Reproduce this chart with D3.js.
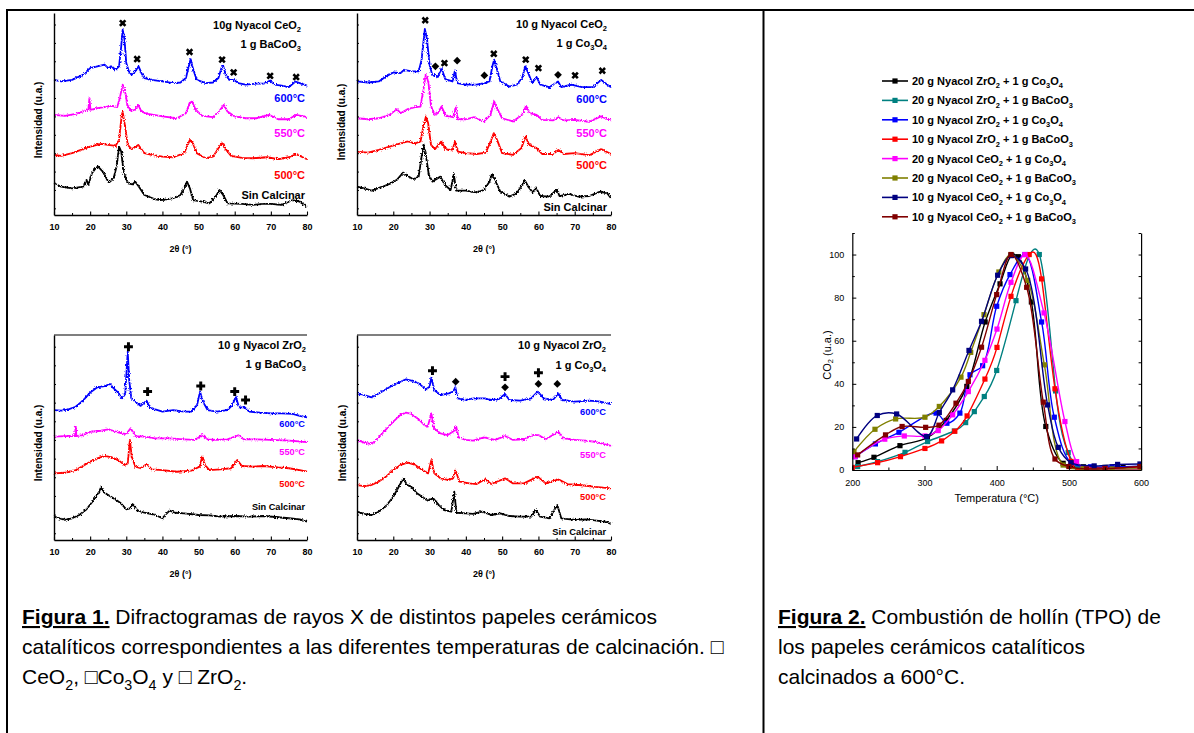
<!DOCTYPE html>
<html><head><meta charset="utf-8">
<script src="https://cdn.jsdelivr.net/npm/d3@7"></script>
<style>
body{margin:0;background:#fff}
svg{display:block}
text{font-family:"Liberation Sans",Arial,Helvetica,sans-serif}
</style>
</head><body>
<svg id="c" width="1194" height="733"></svg>
<script>
// ---------------- DATA ----------------
// XRD patterns: [2theta, intensity (arbitrary, stacked)]
const ceBa600 = [[10,66.9],[12,66.1],[15,66.9],[18,69.4],[20,72.7],[22,73.6],[24,74.4],[25,72.7],[26,73.6],[27,71.9],[28,73.6],[28.6,83.5],[29,91.7],[29.5,86.8],[30,75.2],[30.7,71.1],[31.5,69.4],[32.5,71.1],[33.4,73.6],[34.2,70.2],[35,67.8],[37,66.9],[40,66.1],[43,65.3],[45,65.6],[46.5,67.8],[47.3,73.6],[47.8,77.2],[48.4,72.7],[49.5,66.9],[52,65.3],[54,65.6],[55.5,67.8],[56.3,72.7],[56.8,73.9],[57.5,69.4],[58.5,66.9],[59.7,66.9],[61,65.3],[63,64.5],[66,65],[68,65],[69.8,66.6],[71,64.5],[73,64],[75,63.3],[76.8,66.1],[78,65.3],[80,64]];
const ceBa550 = [[10,49.6],[13,49.1],[16,50.1],[19.5,52.1],[19.8,57.9],[20.1,52.1],[22,52.9],[24,53.4],[26,54],[27.5,53.4],[28.3,58.7],[29,64.5],[29.6,62],[30.3,54.5],[31.2,51.7],[32.5,52.1],[33.3,54.5],[34.2,51.2],[36,50.1],[40,48.8],[44,47.9],[46.5,50.4],[47.5,55.4],[48.2,56.2],[49.2,52.1],[51,49.1],[54,48.4],[56,52.1],[57,54.5],[58,51.2],[60,48.8],[63,47.9],[66,47.9],[69.5,49.6],[72,47.4],[75,47.4],[77,49.6],[80,48.4]];
const ceBa500 = [[10,29.8],[12,29.3],[15,30.6],[18,32.6],[20,33.9],[23,35.2],[25,34.7],[27,34.2],[28,37.2],[28.7,48.8],[29,51.2],[29.6,44.6],[30.4,34.7],[31.5,32.6],[33.3,34.7],[35,30.6],[37,29.8],[40,28.9],[43,28.6],[46,30.6],[47.6,37.2],[48.5,35.2],[49.5,30.6],[52,28.1],[54,28.9],[55.8,33.9],[56.5,35.5],[57.5,32.6],[59,29.3],[62,28.3],[65,28.1],[69,28.6],[72,27.6],[75,28.6],[77,30.1],[80,27.6]];
const ceBaSC = [[10,15.7],[12,14],[15,13.2],[18,14],[19,17.4],[19.5,14.9],[20.5,20.7],[21.5,23.1],[22.2,24],[23.5,21.5],[24.5,18.2],[25.2,16],[26.5,18.2],[27.3,24],[28,33.9],[28.6,31.4],[29.3,20.7],[30.5,15.7],[31.7,15.2],[32.5,16.5],[33.5,14],[35,9.9],[38,7.8],[40,7.4],[43,8.3],[45,9.9],[46.2,14],[46.8,16.5],[47.6,13.2],[48.5,7.4],[51,6.6],[53,5.8],[55,9.9],[55.8,12.4],[56.8,9.9],[58,5.8],[62,5.5],[65,5],[68,5.5],[70,5.5],[73,5],[76,7.4],[78,6.6],[80,4.1]];

const ceCo600 = [[10,66.1],[13,65.6],[16,66.1],[18,68.6],[20,70.6],[22,70.2],[23,71.9],[25,71.1],[27,71.1],[27.8,76.9],[28.7,92.1],[29.3,86.8],[30,74.4],[30.8,68.9],[31.5,69.4],[32.3,68.3],[33.3,72.7],[34.3,67.3],[36.3,66.1],[37,71.6],[37.6,65.3],[40,64.5],[43,64.5],[45,65.3],[46.5,66.1],[47.3,73.6],[47.8,76.9],[48.6,71.9],[49.5,66.1],[52,63.6],[54,64.5],[55.5,67.8],[56.4,73.6],[57.2,70.2],[58.3,65.3],[59.5,68.3],[60.5,64.5],[63,63.3],[65.4,66.1],[66.3,63.3],[69,64.5],[72,63.3],[75,63.3],[77.3,66.9],[79,64.5],[80,63.3]];
const ceCo550 = [[10,47.9],[13,47.4],[16,47.9],[19,49.6],[21,52.4],[22,50.4],[24,52.4],[26,53.4],[27.5,53.7],[28.3,62],[29,69.9],[29.7,65.3],[30.4,54],[31.3,49.6],[32.3,50.4],[33.3,53.7],[34.5,49.1],[36.5,48.4],[37.2,53.4],[37.8,47.4],[40,47.4],[42.3,48.4],[45,46.3],[46.8,49.6],[47.8,56.2],[48.8,52.1],[50,47.9],[53,46.3],[55.5,49.6],[56.6,54],[57.6,50.4],[59.5,49.6],[61,47.1],[64,46.8],[65.5,48.4],[67,46.8],[70,47.1],[74,46.1],[77.2,48.8],[80,46.8]];
const ceCo500 = [[10,31.4],[13,30.9],[16,32.2],[19,33.9],[22,35.5],[24,36.4],[26,35.5],[27.5,36.4],[28.3,43.8],[29,48.8],[29.6,45.5],[30.4,34.7],[31.5,32.6],[33.2,36.4],[34.5,32.6],[36.3,31.9],[37,36.4],[37.8,31.4],[40,30.6],[43,30.2],[45.5,30.9],[47,37.2],[47.7,40.5],[48.6,37.2],[50,30.6],[53,29.8],[55.3,33.1],[56.4,38.8],[57.5,34.7],[59.5,33.1],[61,30.2],[64,30.2],[65.5,32.2],[67,30.2],[70,30.6],[74,29.6],[77.3,32.6],[80,30.2]];
const ceCoSC = [[10,14],[12,13.2],[14,12.1],[17,14],[19,15.4],[21,17.4],[22.7,21],[24,19.3],[25.5,17.7],[27,19],[27.8,28.9],[28.3,34.7],[28.9,30.6],[29.8,19.8],[30.8,16.5],[31.5,17.4],[33,19],[34.2,14.9],[35.8,12.4],[36.7,20.3],[37.3,12.1],[40,12.1],[43,11.1],[45,12.4],[46.5,16.5],[47.2,20.3],[48,17.4],[49.5,11.6],[52,9.1],[54,10.7],[55.5,14.9],[56.2,17.4],[57.2,14],[58.5,11.1],[59.3,13.7],[60.5,9.4],[63,9.1],[65.1,12.7],[65.8,9.4],[68.5,10.4],[71,9.1],[74,9.4],[77,11.6],[79,10.7],[80,8.3]];

const zrBa600 = [[10,63.4],[12,63.1],[14,63.7],[16,65],[18,68],[20,71.9],[22,74.5],[24,75.1],[25.5,76.1],[26.5,74],[27.5,72.4],[28.8,69.1],[29.7,71.2],[30.1,82.9],[30.4,91.9],[30.8,78],[31.4,69.1],[32.5,67.5],[34,65.4],[35.6,68],[36.5,64.7],[38,63.7],[40,62.6],[43,63.4],[46,62.6],[48,62.6],[49.6,65.9],[50.4,72.4],[51.2,67.5],[52.5,63.4],[55,62.6],[58,63.4],[59.4,65.9],[60.3,69.9],[61.2,64.7],[62.8,64.7],[64,62.6],[67,62.1],[70,61.8],[73,61.8],[76,61.5],[78,60.5],[80,59.8]];
const zrBa550 = [[10,50.4],[13,50.7],[15.8,50.7],[16,55.6],[16.2,50.7],[18,51.2],[20,52.8],[23,53.3],[25,54],[28,52.4],[30,51.7],[31.2,54.5],[32.5,50.7],[35,50.4],[38,49.6],[42,49.6],[46,49.1],[49,48.8],[51,51.2],[52.5,49.1],[55,48.8],[58,49.1],[61,51.1],[62.5,49.1],[66,49.1],[70,48.8],[75,48.5],[80,47.8]];
const zrBa500 = [[10,32.5],[13,32.8],[16,34.1],[18,36.1],[20,38.2],[22,39.8],[24,41],[26,40.3],[28,38.7],[29.5,36.6],[30.4,37.4],[31,48.8],[31.5,40.7],[32.5,35.8],[34,35],[35.7,37.1],[37,34.5],[40,34.1],[44,33.3],[48,33.8],[50.3,35.8],[51,40.7],[51.8,36.6],[53,34.1],[56,34.5],[59,35],[60.7,39],[62,36.1],[65,35.8],[68,36.1],[72,35.4],[75,35],[78,34.1],[80,33.3]];
const zrBaSC = [[10,11.4],[13,9.8],[15,10.6],[17,12.2],[19,15],[21,19.5],[22.5,23.6],[23,25.7],[24,23.1],[25,22],[27,19.8],[28.5,17.9],[30,15],[31,15.4],[31.8,17.6],[33,14.6],[35,13.3],[38,12.2],[40,10.6],[41,12.7],[42,14.3],[43.5,13.3],[46,13],[50,12.2],[53,12],[56,11.4],[60,11.7],[64,11.4],[68,11.7],[72,11.1],[75,10.6],[78,10.1],[80,8.9]];

const zrCo600 = [[10,71.5],[12,70.7],[14,69.6],[16,71.5],[18,73.5],[20,75.6],[22,77.2],[23.5,78.4],[25,77.7],[27,76.4],[29,73.5],[30,74.8],[30.5,79.3],[31.3,73.2],[33,70.7],[35.3,71.5],[36.5,72.4],[37.1,74.5],[37.7,69.1],[40,68.3],[42,69.1],[45,69.1],[47,68.3],[49,68.6],[50.8,71.2],[52,68.3],[55,68],[58,69.1],[59.8,72.4],[61.5,69.1],[64,68.3],[65.5,71.5],[66.5,68.3],[70,67.5],[74,68],[77,67.5],[80,66.3]];
const zrCo550 = [[10,48.8],[12,47.5],[14,46.8],[16,50.1],[18,54],[20,57.7],[22,61],[23.5,62.1],[25,61.5],[27,58.9],[28.5,56.1],[29.5,55.3],[30.5,61.8],[31.2,54.5],[33,52],[35,51.2],[36.8,53.3],[37.3,55.6],[38,50.1],[40,48.8],[42,48.5],[45,50.1],[48,48.8],[50.8,50.7],[53,48.8],[56,49.1],[58.5,51.2],[60,51.2],[62,49.1],[65.5,52.8],[67,49.6],[70,48.8],[73,48.5],[76,47.8],[80,45.9]];
const zrCo500 = [[10,26.8],[12,26.3],[14,26.8],[16,28.5],[18,30.9],[20,34.1],[22,36.6],[24,37.7],[26,36.6],[28,34.1],[29.6,32.5],[30.5,39],[31.3,32.5],[33,30.1],[35,29.3],[36.5,30.1],[37.2,33.8],[38.2,28.5],[41,27.6],[43,27.3],[45.3,29.6],[47,27.3],[50.8,30.1],[53,27.6],[56,27.6],[59.8,30.9],[62,27.6],[65.5,29.6],[68,27.3],[72,26.7],[75,26],[80,25.2]];
const zrCoSC = [[10,13.8],[12,12.7],[14,12.2],[16,13.8],[18,16.6],[20,21.1],[21.5,26],[22.8,30.1],[23.8,26.8],[25,26],[26.5,22.8],[28,21.1],[29.5,19.2],[31,20.3],[32.5,17.1],[34,14.6],[36,13.8],[36.8,23.6],[37.4,13.3],[40,13],[42,12.7],[44.5,13.8],[47,12.2],[49.5,13],[52,11.7],[55,11.4],[58,11.4],[59.3,14.6],[60.5,11.4],[63,10.6],[65.2,17.1],[66.3,10.6],[70,9.8],[73,10.1],[76,9.4],[78.5,8.9],[80,7.8]];

// Phase markers: [2theta, height, symbol] x = CeO2, d = Co3O4, p = ZrO2
const ceBaPeaks = [[29,95,"x"],[33,77.2,"x"],[47.5,80.7,"x"],[56.5,76.9,"x"],[59.7,70.6,"x"],[69.8,68.9,"x"],[77,68.3,"x"]];
const ceCoPeaks = [[28.8,96.4,"x"],[31.6,73.6,"d"],[34.1,75.2,"x"],[37.6,76.4,"d"],[45.1,69.1,"d"],[47.7,79.8,"x"],[56.5,76.9,"x"],[60,72.7,"x"],[65.4,69.4,"d"],[70.1,69.1,"x"],[77.6,71.4,"x"]];
const zrBaPeaks = [[30.6,94.3,"p"],[35.9,72.4,"p"],[50.6,75.1,"p"],[60,72.4,"p"],[63,68.3,"p"]];
const zrCoPeaks = [[30.8,82.6,"p"],[37.2,77.2,"d"],[50.8,79.7,"p"],[50.8,74.5,"d"],[60,81.6,"p"],[60,76.1,"d"],[65.2,76.1,"d"]];

const xrdTicks = [10,20,30,40,50,60,70,80];
const xrdMinor = [15,25,35,45,55,65,75];
const tempLabels = ["600°C","550°C","500°C","Sin Calcinar"];

// TPO: [temperature °C, CO2 u.a.]
const tpoZr20Co = [[208,3.4],[230,5.9],[266,11.3],[304,15],[330,23],[358.6,38.8],[384,68.7],[404.6,86.4],[421,99.6],[430,99],[448,78],[468,20.2],[492,3.1],[520,1.5],[550,1.2],[575,1.4],[600,1.6]];
const tpoZr20Ba = [[207.4,1.6],[235,3.9],[273,8.2],[304.3,13.2],[341.3,18.1],[357,22],[369,27.1],[382.8,34.1],[400,46.2],[426.7,78.6],[459,100],[481.6,36.7],[499,8.1],[512,1],[530,0.5],[560,0.4],[600,0.4]];
const tpoZr10Co = [[203.7,6.2],[232,12.1],[264.6,17.5],[316,26.4],[331,21.7],[349,26.4],[363,44.2],[380.5,48.4],[400,76],[418.4,90.7],[439.2,100],[462.2,68.7],[479.8,24.5],[502.9,3.4],[530,1.5],[560,1.5],[600,1.8]];
const tpoZr10Ba = [[200,1.2],[235,3.4],[266.7,6.2],[300.6,10],[323.7,13.5],[342,18],[359,25.1],[383.7,42.2],[400.4,56.9],[419.8,80.6],[445,100],[462.2,88.7],[480.7,37.7],[503,4],[520,0.8],[550,0.8],[600,1.5]];
const tpoCe20Co = [[203.7,6.2],[245,14.3],[272,15.8],[300.6,15.8],[319,18.3],[339,25.6],[360.7,36.4],[383.7,50.9],[400.4,65.4],[419.8,87.1],[439.2,100],[465.5,72.9],[494.5,22.5],[510.7,3.9],[525,0.5],[550,0.3],[600,0.3]];
const tpoCe20Ba = [[202.3,8.5],[231.4,18.9],[260,23.7],[300.6,24.5],[320.5,29.5],[350.5,43.1],[364,54.6],[382.4,72.1],[403,91.9],[419.8,100],[443,88],[466,48.8],[492,2.3],[520,0.6],[560,0.5],[600,0.5]];
const tpoCe10Co = [[206,14.4],[234.6,25.3],[261.4,26],[303,15.5],[320.5,26.7],[339,37.2],[361.6,55.5],[379,69],[401.3,90.4],[420,99.5],[440,93.3],[470.5,30.2],[485.3,10.5],[502.9,3.4],[535,1.9],[567.5,2.6],[598.4,2.8]];
const tpoCe10Ba = [[207.4,7],[246,16.3],[269,20.2],[301.6,19.8],[320,20.8],[343.6,31],[360.7,41.1],[379,57],[400,81.4],[419.8,100],[441.5,84.8],[464.5,31.5],[480.7,5.1],[500,1.6],[524.6,0.5],[550,0.6],[598.4,1.6]];
const tpoNames = ["20 g Nyacol ZrO_2 + 1 g Co_3O_4","20 g Nyacol ZrO_2 + 1 g BaCoO_3","10 g Nyacol ZrO_2 + 1 g Co_3O_4","10 g Nyacol ZrO_2 + 1 g BaCoO_3","20 g Nyacol CeO_2 + 1 g Co_3O_4","20 g Nyacol CeO_2 + 1 g BaCoO_3","10 g Nyacol CeO_2 + 1 g Co_3O_4","10 g Nyacol CeO_2 + 1 g BaCoO_3"];
const tpoXTicks = [200,300,400,500,600];
const tpoYTicks = [0,20,40,60,80,100];

// ---------------- STYLE / LAYOUT ----------------
const tempColors = ["#0000ff","#ff00ff","#ff0000","#000000"];
const tpoColors = ["#000000","#008080","#0000ff","#ff0000","#ff00ff","#808000","#000080","#800000"];
const tpoSeries = [tpoZr20Co,tpoZr20Ba,tpoZr10Co,tpoZr10Ba,tpoCe20Co,tpoCe20Ba,tpoCe10Co,tpoCe10Ba];
// spline style per series (Origin spline overshoots on the two ZrO2/BaCoO3 curves)
const tpoCurves = [d3.curveCatmullRom.alpha(0.5), d3.curveNatural, d3.curveCatmullRom.alpha(0.5), d3.curveNatural,
                   d3.curveCatmullRom.alpha(0.5), d3.curveCatmullRom.alpha(0.5), d3.curveCatmullRom.alpha(0.5), d3.curveCatmullRom.alpha(0.5)];

const svg = d3.select("#c");

// rough "detector noise" look for XRD traces (visual filter only)
const defs = svg.append("defs");
const flt = defs.append("filter").attr("id","grain").attr("x","-2%").attr("y","-10%").attr("width","104%").attr("height","120%");
flt.append("feTurbulence").attr("type","fractalNoise").attr("baseFrequency","0.9 0.6").attr("numOctaves",2).attr("seed",3).attr("result","n");
flt.append("feDisplacementMap").attr("in","SourceGraphic").attr("in2","n").attr("scale",3.2).attr("xChannelSelector","R").attr("yChannelSelector","G");

function rich(t, str, fs){
  let shifted = false;
  str.split(/(_\d+)/).forEach(p=>{
    if(p==="") return;
    if(p[0]==="_"){
      t.append("tspan").attr("font-size", fs*0.68).attr("dy", shifted?0:fs*0.3).text(p.slice(1));
      shifted = true;
    } else {
      const s = t.append("tspan").text(p);
      if(shifted){ s.attr("dy", -fs*0.3); shifted=false; }
    }
  });
}

// outer frame
const frame = svg.append("g").attr("stroke","#000").attr("stroke-width",2);
frame.append("line").attr("x1",6).attr("x2",1194).attr("y1",10).attr("y2",10);
frame.append("line").attr("x1",7).attr("x2",7).attr("y1",9).attr("y2",733);
frame.append("line").attr("x1",763.5).attr("x2",763.5).attr("y1",9).attr("y2",733);

const panels = [
 {x0:54,x1:307,y0:13,y1:215,top:false,series:[ceBa600,ceBa550,ceBa500,ceBaSC],peaks:ceBaPeaks,
  title:["10g Nyacol CeO_2","1 g BaCoO_3"],titleY:[29,48],titleR:301,labY:[102,137,179,199],labR:305,labFs:11,ylx:38,yly:120},
 {x0:357,x1:611,y0:13,y1:215,top:false,series:[ceCo600,ceCo550,ceCo500,ceCoSC],peaks:ceCoPeaks,
  title:["10 g Nyacol CeO_2","1 g Co_3O_4"],titleY:[28,47],titleR:607,labY:[103,137,169,211],labR:607,labFs:11,ylx:341,yly:122},
 {x0:54,x1:307,y0:335,y1:540,top:true,series:[zrBa600,zrBa550,zrBa500,zrBaSC],peaks:zrBaPeaks,
  title:["10 g Nyacol ZrO_2","1 g BaCoO_3"],titleY:[349,368],titleR:306,labY:[427,455,487,510],labR:305,labFs:9.2,ylx:38,yly:443},
 {x0:357,x1:611,y0:335,y1:540,top:true,series:[zrCo600,zrCo550,zrCo500,zrCoSC],peaks:zrCoPeaks,
  title:["10 g Nyacol ZrO_2","1 g Co_3O_4"],titleY:[349,369],titleR:606,labY:[415,458,500,535],labR:606,labFs:9.3,ylx:342,yly:443}
];

panels.forEach(P=>{
  const g = svg.append("g");
  const x = d3.scaleLinear().domain([10,80]).range([P.x0,P.x1]);
  const y = d3.scaleLinear().domain([0,100]).range([P.y1,P.y0]);
  const line = d3.line().x(d=>x(d[0])).y(d=>y(d[1]));
  const cg = g.append("g").attr("filter","url(#grain)");
  P.series.slice().reverse().forEach((s,i)=>{
    const ci = 3-i;
    cg.append("path").datum(s).attr("d",line).attr("fill","none")
      .attr("stroke",tempColors[ci]).attr("stroke-width",1.8).attr("stroke-linejoin","round");
  });
  const ax = g.append("g").attr("transform",`translate(0,${P.y1})`)
    .call(d3.axisBottom(x).tickValues(xrdTicks).tickSizeInner(-3.5).tickSizeOuter(0).tickPadding(9).tickFormat(d3.format("d")));
  ax.select(".domain").attr("stroke-width",1.4);
  ax.selectAll(".tick line").attr("stroke-width",1.1);
  ax.selectAll("text").attr("font-size",9).attr("font-weight","bold").attr("font-family","Liberation Sans, Arial, sans-serif");
  const axm = g.append("g").attr("transform",`translate(0,${P.y1})`)
    .call(d3.axisBottom(x).tickValues(xrdMinor).tickSizeInner(-2).tickSizeOuter(0).tickFormat(""));
  axm.select(".domain").remove();
  const ay = g.append("g").attr("transform",`translate(${P.x0},0)`)
    .call(d3.axisLeft(y).tickValues(d3.range(3.3,100,9.1)).tickSizeInner(-2).tickSizeOuter(0).tickFormat(""));
  ay.select(".domain").attr("stroke-width",1.4);
  if(P.top){
    g.append("line").attr("x1",P.x0).attr("x2",P.x1).attr("y1",P.y0).attr("y2",P.y0).attr("stroke","#000").attr("stroke-width",1.2);
  }
  g.append("text").attr("x",(P.x0+P.x1)/2).attr("y",P.y1+36.5).attr("text-anchor","middle")
    .attr("font-size",9).attr("font-weight","bold").text("2θ (°)");
  g.append("text").attr("transform",`translate(${P.ylx},${P.yly}) rotate(-90)`).attr("text-anchor","middle")
    .attr("dominant-baseline","central").attr("font-size",10).attr("font-weight","bold").text("Intensidad (u.a.)");
  P.title.forEach((t,i)=>{
    const tx = g.append("text").attr("x",P.titleR).attr("y",P.titleY[i]).attr("text-anchor","end")
      .attr("font-size",11).attr("font-weight","bold");
    rich(tx,t,11);
  });
  tempLabels.forEach((t,i)=>{
    g.append("text").attr("x",P.labR).attr("y",P.labY[i]).attr("text-anchor","end")
      .attr("font-size",P.labFs).attr("font-weight","bold").attr("fill",tempColors[i]).text(t);
  });
  P.peaks.forEach(p=>{
    let sym, rot=0, size;
    if(p[2]==="x"){ sym=d3.symbolCross; rot=45; size=34; }
    else if(p[2]==="p"){ sym=d3.symbolCross; size=44; }
    else { sym=d3.symbolSquare; rot=45; size=30; }
    g.append("path").attr("d",d3.symbol().type(sym).size(size)())
      .attr("transform",`translate(${x(p[0])},${y(p[1])}) rotate(${rot})`).attr("fill","#000");
  });
});

// ---------------- TPO chart ----------------
const T = {x0:852.3,x1:1141.1,y0:233,y1:470};
const tx = d3.scaleLinear().domain([200,600]).range([T.x0,T.x1]);
const ty = d3.scaleLinear().domain([0,110]).range([T.y1,T.y0]);
const tg = svg.append("g");
tg.append("clipPath").attr("id","tclip").append("rect").attr("x",T.x0).attr("y",T.y0).attr("width",T.x1-T.x0).attr("height",T.y1-T.y0);
const cg2 = tg.append("g").attr("clip-path","url(#tclip)");
tpoSeries.forEach((s,i)=>{
  const tline = d3.line().x(d=>tx(d[0])).y(d=>ty(d[1])).curve(tpoCurves[i]);
  cg2.append("path").datum(s).attr("d",tline).attr("fill","none").attr("stroke",tpoColors[i]).attr("stroke-width",1.4);
  cg2.selectAll(null).data(s).enter().append("rect")
    .attr("x",d=>tx(d[0])-2.6).attr("y",d=>ty(d[1])-2.6).attr("width",5.2).attr("height",5.2).attr("fill",tpoColors[i]);
});
function styleAxis(a){
  a.select(".domain").attr("stroke","#000").attr("stroke-width",1.2);
  a.selectAll(".tick line").attr("stroke-width",1);
  a.selectAll("text").attr("font-size",9).attr("font-family","Liberation Sans, Arial, sans-serif");
}
const tax = tg.append("g").attr("transform",`translate(0,${T.y1})`)
  .call(d3.axisBottom(tx).tickValues(tpoXTicks).tickSizeInner(-4).tickSizeOuter(0).tickPadding(9.5));
styleAxis(tax);
const taxm = tg.append("g").attr("transform",`translate(0,${T.y1})`)
  .call(d3.axisBottom(tx).tickValues([250,350,450,550]).tickSizeInner(-2.5).tickSizeOuter(0).tickFormat(""));
taxm.select(".domain").remove();
const tay = tg.append("g").attr("transform",`translate(${T.x0},0)`)
  .call(d3.axisLeft(ty).tickValues(tpoYTicks).tickSizeInner(-4).tickSizeOuter(0).tickPadding(8));
styleAxis(tay);
const taym = tg.append("g").attr("transform",`translate(${T.x0},0)`)
  .call(d3.axisLeft(ty).tickValues([10,30,50,70,90,110]).tickSizeInner(-2.5).tickSizeOuter(0).tickFormat(""));
taym.select(".domain").remove();
const tar = tg.append("g").attr("transform",`translate(${T.x1},0)`)
  .call(d3.axisRight(ty).tickValues(d3.range(0,111,10)).tickSizeInner(-2.5).tickSizeOuter(0).tickFormat(""));
styleAxis(tar);
tg.append("text").attr("x",(T.x0+T.x1)/2).attr("y",T.y1+32).attr("text-anchor","middle").attr("font-size",11).text("Temperatura (°C)");
const cyl = tg.append("text").attr("transform",`translate(827,355) rotate(-90)`).attr("text-anchor","middle")
  .attr("dominant-baseline","central").attr("font-size",11);
rich(cyl,"CO_2 (u.a.)",11);

const legY0 = 81, legDY = 19.4;
tpoNames.forEach((n,i)=>{
  const yy = legY0 + i*legDY;
  tg.append("line").attr("x1",882).attr("x2",908).attr("y1",yy).attr("y2",yy).attr("stroke",tpoColors[i]).attr("stroke-width",1.6);
  tg.append("rect").attr("x",892.4).attr("y",yy-2.6).attr("width",5.2).attr("height",5.2).attr("fill",tpoColors[i]);
  const t = tg.append("text").attr("x",912).attr("y",yy+4).attr("font-size",11).attr("font-weight","bold");
  rich(t,n,11);
});

// ---------------- captions ----------------
const capFs = 21;
function capLine(x,y,parts){
  const t = svg.append("text").attr("x",x).attr("y",y).attr("font-size",capFs);
  parts.forEach(p=>{
    if(p.bold){ t.append("tspan").attr("font-weight","bold").style("text-decoration","underline").text(p.s); }
    else rich(t,p.s,capFs);
  });
}
capLine(22,624,[{bold:true,s:"Figura 1."},{s:" Difractogramas de rayos X de distintos papeles cerámicos"}]);
capLine(22,654,[{s:"catalíticos correspondientes a las diferentes temperaturas de calcinación. \u25A1"}]);
capLine(22,684,[{s:"CeO_2, \u25A1Co_3O_4 y \u25A1 ZrO_2."}]);
capLine(778,624,[{bold:true,s:"Figura 2."},{s:" Combustión de hollín (TPO) de"}]);
capLine(778,654,[{s:"los papeles cerámicos catalíticos"}]);
capLine(778,684,[{s:"calcinados a 600°C."}]);
</script>
</body></html>
